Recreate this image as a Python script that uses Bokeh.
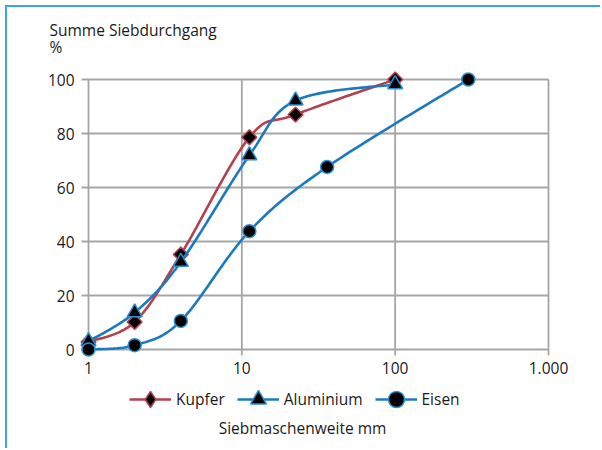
import numpy as np
from bokeh.plotting import figure
from bokeh.models import Legend, LegendItem, Label
from bokeh.core.properties import value
from bokeh.embed import file_html
from bokeh.resources import INLINE

# ---- data ----
kupfer_x = [1, 2, 4, 11.2, 22.4, 100]
kupfer_y = [2.8, 10.2, 35.2, 78.6, 87.0, 100.0]
alu_x = [1, 2, 4, 11.2, 22.4, 100]
alu_y = [3.0, 13.7, 32.4, 71.9, 92.2, 98.2]
eisen_x = [1, 2, 4, 11.2, 36, 300]
eisen_y = [0.0, 1.6, 10.6, 43.8, 67.6, 100.0]
series_names = ["Kupfer", "Aluminium", "Eisen"]
x_ticks = [1, 10, 100, 1000]
x_tick_labels = ["1", "10", "100", "1.000"]
y_ticks = [0, 20, 40, 60, 80, 100]
y_tick_labels = ["0", "20", "40", "60", "80", "100"]

FONT = "Open Sans"
TXT = "#1a1a1a"
GRID = "#a6a6a6"
RED = "#b5404e"
BLUE = "#1b7abf"
MBLUE = "#2a8fd3"

W, H = 595, 443
DEC = 153.33          # px per decade
X0 = 81               # px of x=1 from the left of the canvas
PXU = 2.7             # px per y unit
Y0 = 342              # px of y=0 from the top of the canvas


def smooth(xs, ys, n=30):
    """Excel-style smoothed line (Catmull-Rom Bezier) in log-x space."""
    lx = np.log10(np.asarray(xs, float))
    y = np.asarray(ys, float)
    P = np.column_stack([lx, y])
    m = len(P)
    out = [P[0]]
    t = np.linspace(0, 1, n)[1:, None]
    for i in range(m - 1):
        p0 = P[i - 1] if i > 0 else P[i]
        p1 = P[i]
        p2 = P[i + 1]
        p3 = P[i + 2] if i + 2 < m else P[i + 1]
        c1 = p1 + (p2 - p0) / 6.0
        c2 = p2 - (p3 - p1) / 6.0
        seg = ((1 - t) ** 3) * p1 + 3 * ((1 - t) ** 2) * t * c1 + 3 * (1 - t) * t ** 2 * c2 + t ** 3 * p2
        out.extend(seg)
    out = np.array(out)
    return 10 ** out[:, 0], out[:, 1]


x_range = (10 ** (-X0 / DEC), 10 ** ((W - X0) / DEC))
y_range = (-(H - Y0) / PXU, Y0 / PXU)

p = figure(width=W, height=H, x_axis_type="log", x_range=x_range, y_range=y_range,
           x_axis_location=None, y_axis_location=None, min_border=0,
           output_backend="svg", toolbar_location=None)
p.styles = {"margin-left": "5px", "margin-top": "5px",
            "border-top": "2px solid #3aa6dd", "border-left": "2px solid #3aa6dd"}
p.outline_line_color = None
p.grid.visible = False
p.background_fill_color = "white"
p.border_fill_color = "white"

# grid lines (with small tick extensions)
p.segment(x0=[0.9] * len(y_ticks), x1=[1000] * len(y_ticks), y0=y_ticks, y1=y_ticks,
          line_color=GRID, line_width=1.8)
p.segment(x0=x_ticks, x1=x_ticks, y0=[-2.2] * len(x_ticks), y1=[100] * len(x_ticks),
          line_color=GRID, line_width=1.8)

# tick labels
p.text(x=[1] * len(y_ticks), y=y_ticks, text=y_tick_labels, x_offset=-14,
       text_align="right", text_baseline="middle", text_font=value(FONT),
       text_font_size="15.5px", text_color=TXT)
p.text(x=x_ticks, y=[0] * len(x_ticks), text=x_tick_labels, y_offset=12,
       text_align="center", text_baseline="top", text_font=value(FONT),
       text_font_size="15.5px", text_color=TXT)

items = []
specs = [
    (kupfer_x, kupfer_y, RED, "square", 10.5, np.pi / 4, RED, "diamond"),
    (alu_x, alu_y, BLUE, "triangle", 15, 0.0, MBLUE, None),
    (eisen_x, eisen_y, BLUE, "circle", 13, 0.0, MBLUE, None),
]
for name, (xs, ys, col, mk, sz, ang, oc, legmk) in zip(series_names, specs):
    sx, sy = smooth(xs, ys)
    lr = p.line(sx, sy, line_color=col, line_width=2.6)
    sr = p.scatter(xs, ys, marker=mk, size=sz, angle=ang, fill_color="black",
                   line_color=oc, line_width=1.5)
    rends = [lr, sr]
    if legmk is not None:
        # legend-only marker (hidden renderer, drawn only as the legend glyph)
        hr = p.scatter(xs, ys, marker=legmk, size=sz, fill_color="black",
                       line_color=oc, line_width=1.5, visible=False)
        rends = [lr, hr]
    items.append(LegendItem(label=name, renderers=rends))

legend = Legend(items=items, orientation="horizontal", location=(122, 31),
                glyph_width=42, glyph_height=40, label_standoff=5, spacing=12,
                padding=0, margin=0, border_line_color=None, background_fill_alpha=0,
                inactive_fill_alpha=0,
                label_text_font=FONT, label_text_font_size="15.5px", label_text_color=TXT)
p.add_layout(legend, "center")

p.add_layout(Label(x=42, y=421, x_units="screen", y_units="screen",
                   text="Summe Siebdurchgang", text_font=FONT, text_font_size="15.5px",
                   text_color=TXT, text_baseline="alphabetic"))
p.add_layout(Label(x=42, y=404, x_units="screen", y_units="screen",
                   text="%", text_font=FONT, text_font_size="15.5px",
                   text_color=TXT, text_baseline="alphabetic"))
p.add_layout(Label(x=295, y=23, x_units="screen", y_units="screen",
                   text="Siebmaschenweite mm", text_font=FONT, text_font_size="15.5px",
                   text_color=TXT, text_baseline="alphabetic", text_align="center"))

open("out.html", "w").write(file_html(p, INLINE))
